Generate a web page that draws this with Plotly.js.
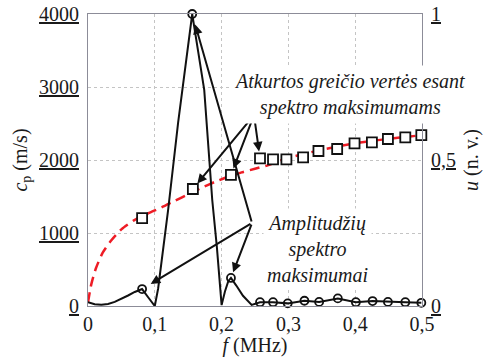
<!DOCTYPE html>
<html>
<head>
<meta charset="utf-8">
<script src="https://cdn.plot.ly/plotly-3.0.1.min.js"></script>
<style>html,body{margin:0;padding:0;background:#fff;}#chart{width:485px;height:357px;}</style>
</head>
<body>
<div id="chart"></div>
<script>
// ---- Data ----
// Amplitude spectrum (normalised, right axis u)
const ampF = [0, 0.01, 0.02, 0.03, 0.04, 0.05, 0.06, 0.07, 0.081, 0.09, 0.1, 0.105, 0.112, 0.12, 0.135, 0.145, 0.156, 0.165, 0.174, 0.186, 0.193, 0.2, 0.205, 0.21, 0.214, 0.222, 0.232, 0.245, 0.2575, 0.277, 0.299, 0.324, 0.346, 0.374, 0.401, 0.426, 0.449, 0.475, 0.499];
const ampU = [0.013, 0.006, 0.004, 0.007, 0.014, 0.024, 0.036, 0.048, 0.058, 0.03, 0.0, 0.06, 0.18, 0.33, 0.63, 0.81, 1.0, 0.87, 0.74, 0.363, 0.2, 0.003, 0.05, 0.085, 0.096, 0.07, 0.035, 0.004, 0.013, 0.013, 0.009, 0.018, 0.014, 0.026, 0.013, 0.017, 0.014, 0.013, 0.011];
// Amplitude spectrum maxima (circles)
const peakF = [0.081, 0.156, 0.214, 0.2575, 0.277, 0.299, 0.324, 0.346, 0.374, 0.401, 0.426, 0.449, 0.475, 0.499];
const peakU = [0.058, 1.0, 0.096, 0.013, 0.013, 0.009, 0.018, 0.014, 0.026, 0.013, 0.017, 0.014, 0.013, 0.011];
// Reconstructed phase velocity at spectrum maxima (squares, left axis c_p)
const velF = [0.081, 0.157, 0.214, 0.2575, 0.277, 0.297, 0.322, 0.345, 0.373, 0.399, 0.425, 0.449, 0.475, 0.499];
const velC = [1205, 1603, 1795, 2023, 2009, 2009, 2037, 2123, 2151, 2229, 2242, 2288, 2311, 2342];
// Theoretical dispersion curve (red dashed)
const thF = [0, 0.005, 0.012, 0.022, 0.035, 0.05, 0.07, 0.09, 0.11, 0.13, 0.15, 0.17, 0.19, 0.21, 0.23, 0.25, 0.27, 0.3, 0.35, 0.4, 0.45, 0.5];
const thC = [50, 300, 520, 730, 900, 1050, 1180, 1270, 1350, 1440, 1530, 1620, 1700, 1770, 1830, 1880, 1930, 2030, 2140, 2230, 2290, 2340];
// Tick labels
const xTickVals = [0, 0.1, 0.2, 0.3, 0.4, 0.5];
const xTickText = ['0', '0,1', '0,2', '0,3', '0,4', '0,5'];
const yTickVals = [0, 1000, 2000, 3000, 4000];
const yTickText = ['0', '1000', '2000', '3000', '4000'];
const y2TickVals = [0, 0.5, 1];
const y2TickText = ['0', '0,5', '1'];

const FONT = 'Liberation Serif';

const traces = [
  {x: thF, y: thC, type: 'scatter', mode: 'lines', yaxis: 'y', line: {color: '#ee1c25', width: 2.5, dash: '10px,6px', shape: 'spline', smoothing: 0.6}, hoverinfo: 'skip'},
  {x: ampF, y: ampU, type: 'scatter', mode: 'lines', yaxis: 'y2', line: {color: '#111', width: 2}, cliponaxis: false, hoverinfo: 'skip'},
  {x: peakF, y: peakU, type: 'scatter', mode: 'markers', yaxis: 'y2', cliponaxis: false, marker: {symbol: 'circle-open', size: 8, color: '#111', line: {width: 1.8, color: '#111'}}},
  {x: velF, y: velC, type: 'scatter', mode: 'markers', yaxis: 'y', cliponaxis: false, marker: {symbol: 'square', size: 10, color: 'white', line: {width: 1.8, color: '#111'}}}
];

const ann = [];
// arrows for velocity squares
const velTail = {x: 0.2485, y: 2616};
[1, 2, 3].forEach(function (i) {
  ann.push({x: velF[i], y: velC[i], xref: 'x', yref: 'y', ax: velTail.x, ay: velTail.y, axref: 'x', ayref: 'y',
    text: '', showarrow: true, arrowhead: 2, arrowsize: 0.95, arrowwidth: 2, arrowcolor: '#111', standoff: 7});
});
// arrows for amplitude maxima
const ampTail = {x: 0.2455, y: 0.284};
[[0, 10], [1, 11], [2, 6]].forEach(function (p) {
  const i = p[0];
  ann.push({x: peakF[i], y: peakU[i], xref: 'x', yref: 'y2', ax: ampTail.x, ay: ampTail.y, axref: 'x', ayref: 'y2',
    text: '', showarrow: true, arrowhead: 2, arrowsize: 0.95, arrowwidth: 2, arrowcolor: '#111', standoff: p[1]});
});
ann.push({x: 0.392, y: 2897, xref: 'x', yref: 'y', showarrow: false, xanchor: 'center', yanchor: 'middle',
  text: '<i>Atkurtos greičio vertės esant</i><br><i>spektro maksimumams</i>',
  font: {family: FONT, size: 20, color: '#1a1a1a'}, bgcolor: 'white', borderpad: 4});
ann.push({x: 0.343, y: 0.195, xref: 'x', yref: 'y2', showarrow: false, xanchor: 'center', yanchor: 'middle',
  text: '<i>Amplitudžių</i><br><i>spektro</i><br><i>maksimumai</i>',
  font: {family: FONT, size: 20, color: '#1a1a1a'}, bgcolor: 'white', borderpad: 3});

const dashU = function (t) { return '<span style="text-decoration:underline dashed">' + t + '</span>'; };
const solidU = function (t) { return '<span style="text-decoration:underline">' + t + '</span>'; };

const layout = {
  width: 485, height: 357,
  margin: {l: 88, r: 63, t: 14, b: 51, pad: 0},
  paper_bgcolor: 'white', plot_bgcolor: 'white',
  showlegend: false,
  font: {family: FONT, size: 20, color: '#1a1a1a'},
  xaxis: {
    range: [0, 0.5], tickvals: xTickVals, ticktext: xTickText, ticks: '',
    showgrid: true, gridcolor: '#c4c4c4', griddash: 'dot', gridwidth: 1,
    showline: true, linecolor: '#8c8c98', linewidth: 1, mirror: true, zeroline: false,
    tickfont: {family: FONT, size: 20}, ticklabelstandoff: 0,
    title: {text: '<i>f</i> (MHz)', font: {family: FONT, size: 20}, standoff: 4}
  },
  yaxis: {
    range: [0, 4000], tickvals: yTickVals, ticktext: yTickText.map(dashU), ticks: '',
    showgrid: true, gridcolor: '#c4c4c4', griddash: 'dot', gridwidth: 1,
    showline: true, linecolor: '#8c8c98', linewidth: 1, mirror: true, zeroline: false,
    tickfont: {family: FONT, size: 20}, ticklabelstandoff: 4,
    title: {text: '<i>c</i><sub>p</sub> (m/s)', font: {family: FONT, size: 20}, standoff: 6}
  },
  yaxis2: {
    overlaying: 'y', side: 'right', range: [0, 1], tickvals: y2TickVals, ticktext: y2TickText.map(solidU), ticks: '',
    showgrid: false, zeroline: false, showline: false,
    tickfont: {family: FONT, size: 20}, ticklabelstandoff: 8,
    title: {text: '<i>u</i> (n. v.)', font: {family: FONT, size: 20}, standoff: 8}
  },
  annotations: ann
};

Plotly.newPlot('chart', traces, layout, {staticPlot: true, displayModeBar: false});
</script>
</body>
</html>
